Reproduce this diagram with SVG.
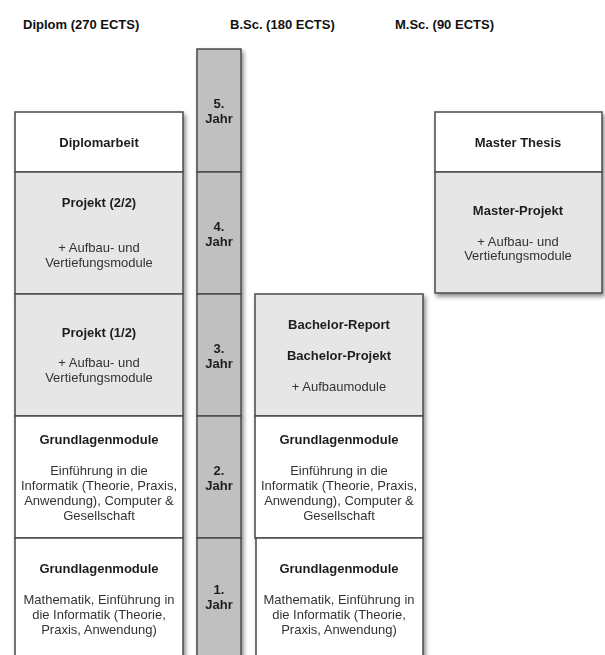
<svg xmlns="http://www.w3.org/2000/svg" width="605" height="655" viewBox="0 0 605 655">
<defs>
<filter id="sh" x="-10%" y="-10%" width="130%" height="130%">
<feDropShadow dx="2" dy="3" stdDeviation="2" flood-color="#000" flood-opacity="0.45"/>
</filter>
<style>
.box{stroke:#4a4a4a;stroke-width:1.5}
.w{fill:#ffffff}
.g{fill:#e6e6e6}
.j{fill:#c0c0c0}
text{font-family:"Liberation Sans",Arial,Helvetica,sans-serif;font-size:13px;text-anchor:middle}
.b{font-weight:bold;fill:#1e1e1e}
.r{fill:#333333}
.h{font-weight:bold;fill:#111;text-anchor:start;font-size:13px}
</style>
</defs>
<rect width="605" height="655" fill="#fff"/>
<g id="headers">
<text class="h" x="23" y="29">Diplom (270 ECTS)</text>
<text class="h" x="230" y="29">B.Sc. (180 ECTS)</text>
<text class="h" x="395" y="29">M.Sc. (90 ECTS)</text>
</g>
<g id="diplom" filter="url(#sh)">
<g id="diplomarbeit"><rect class="box w" x="15" y="112" width="168" height="60"/>
<text class="b" x="99" y="147">Diplomarbeit</text></g>
<g id="projekt22"><rect class="box g" x="15" y="172" width="168" height="122"/>
<text class="b" x="99" y="207">Projekt (2/2)</text>
<text class="r" x="99" y="252">+ Aufbau- und</text>
<text class="r" x="99" y="267">Vertiefungsmodule</text></g>
<g id="projekt12"><rect class="box g" x="15" y="294" width="168" height="122"/>
<text class="b" x="99" y="337">Projekt (1/2)</text>
<text class="r" x="99" y="367">+ Aufbau- und</text>
<text class="r" x="99" y="382">Vertiefungsmodule</text></g>
<g id="diplom-grund2"><rect class="box w" x="15" y="416" width="168" height="122"/>
<text class="b" x="99" y="444">Grundlagenmodule</text>
<text class="r" x="99" y="475">Einführung in die</text>
<text class="r" x="99" y="490">Informatik (Theorie, Praxis,</text>
<text class="r" x="99" y="505">Anwendung), Computer &amp;</text>
<text class="r" x="99" y="520">Gesellschaft</text></g>
<g id="diplom-grund1"><rect class="box w" x="15" y="538" width="168" height="130"/>
<text class="b" x="99" y="573">Grundlagenmodule</text>
<text class="r" x="99" y="604">Mathematik, Einführung in</text>
<text class="r" x="99" y="619">die Informatik (Theorie,</text>
<text class="r" x="99" y="634">Praxis, Anwendung)</text></g>
</g>
<g id="jahre" filter="url(#sh)">
<g id="jahr5"><rect class="box j" x="197" y="49" width="44" height="123"/>
<text class="b" x="219" y="108">5.</text><text class="b" x="219" y="123">Jahr</text></g>
<g id="jahr4"><rect class="box j" x="197" y="172" width="44" height="122"/>
<text class="b" x="219" y="231">4.</text><text class="b" x="219" y="246">Jahr</text></g>
<g id="jahr3"><rect class="box j" x="197" y="294" width="44" height="122"/>
<text class="b" x="219" y="353">3.</text><text class="b" x="219" y="368">Jahr</text></g>
<g id="jahr2"><rect class="box j" x="197" y="416" width="44" height="122"/>
<text class="b" x="219" y="475">2.</text><text class="b" x="219" y="490">Jahr</text></g>
<g id="jahr1"><rect class="box j" x="197" y="538" width="44" height="130"/>
<text class="b" x="219" y="594">1.</text><text class="b" x="219" y="609">Jahr</text></g>
</g>
<g id="bsc" filter="url(#sh)">
<g id="bachelor"><rect class="box g" x="255" y="294" width="168" height="122"/>
<text class="b" x="339" y="329">Bachelor-Report</text>
<text class="b" x="339" y="360">Bachelor-Projekt</text>
<text class="r" x="339" y="391">+ Aufbaumodule</text></g>
<g id="bsc-grund2"><rect class="box w" x="255" y="416" width="168" height="122"/>
<text class="b" x="339" y="444">Grundlagenmodule</text>
<text class="r" x="339" y="475">Einführung in die</text>
<text class="r" x="339" y="490">Informatik (Theorie, Praxis,</text>
<text class="r" x="339" y="505">Anwendung), Computer &amp;</text>
<text class="r" x="339" y="520">Gesellschaft</text></g>
<g id="bsc-grund1"><rect class="box w" x="256" y="538" width="167" height="130"/>
<text class="b" x="339" y="573">Grundlagenmodule</text>
<text class="r" x="339" y="604">Mathematik, Einführung in</text>
<text class="r" x="339" y="619">die Informatik (Theorie,</text>
<text class="r" x="339" y="634">Praxis, Anwendung)</text></g>
</g>
<g id="msc" filter="url(#sh)">
<g id="master-thesis"><rect class="box w" x="435" y="112" width="167" height="60"/>
<text class="b" x="518" y="147">Master Thesis</text></g>
<g id="master-projekt"><rect class="box g" x="435" y="172" width="167" height="121"/>
<text class="b" x="518" y="215">Master-Projekt</text>
<text class="r" x="518" y="246">+ Aufbau- und</text>
<text class="r" x="518" y="260">Vertiefungsmodule</text></g>
</g>
<g id="connectors"/>
</svg>
